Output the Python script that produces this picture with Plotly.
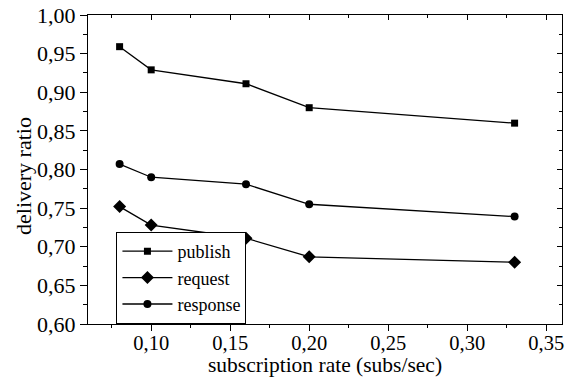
import plotly.graph_objects as go

x_vals = [0.08, 0.10, 0.16, 0.20, 0.33]
publish = [0.959, 0.929, 0.911, 0.880, 0.860]
request = [0.752, 0.728, 0.711, 0.687, 0.680]
response = [0.807, 0.790, 0.781, 0.755, 0.739]
x_ticks = [0.10, 0.15, 0.20, 0.25, 0.30, 0.35]
x_title = "subscription rate (subs/sec)"
y_title = "delivery ratio"

FONT = "Liberation Serif"
fig = go.Figure()
series = [("publish", publish, "square", 7), ("request", request, "diamond", 10), ("response", response, "circle", 8)]
for name, ys, sym, sz in series:
    fig.add_trace(go.Scatter(x=x_vals, y=ys, mode="lines+markers", name=name,
                             line=dict(color="black", width=1.3),
                             marker=dict(symbol=sym, size=sz, color="black")))
# invisible traces for the extra tick axes
for xa, ya in [("x2", "y2"), ("x3", "y")]:
    fig.add_trace(go.Scatter(x=[0.2], y=[0.8], xaxis=xa, yaxis=ya, mode="markers",
                             marker=dict(opacity=0), showlegend=False, hoverinfo="skip"))

tf = dict(family=FONT, size=20.5, color="black")
ttf = dict(family=FONT, size=21.5, color="black")
common = dict(showgrid=False, zeroline=False, showline=True, linecolor="black", linewidth=1.2,
              automargin=False)
fig.update_layout(
    width=576, height=377,
    margin=dict(l=88, r=14, t=15, b=53),
    paper_bgcolor="white", plot_bgcolor="white",
    separators=",.",
    font=dict(family=FONT, size=21, color="black"),
    xaxis=dict(range=[0.06, 0.36], tickvals=x_ticks, tickformat=".2f",
               ticks="", tickfont=tf, **common),
    xaxis3=dict(range=[0.06, 0.36], overlaying="x", side="bottom", anchor="y",
                tickvals=x_ticks, showticklabels=False,
                ticks="outside", ticklen=6, tickwidth=1, tickcolor="black",
                minor=dict(dtick=0.025, tick0=0.0, ticks="outside", ticklen=3, tickcolor="black"),
                **common),
    yaxis=dict(range=[0.60, 1.00], dtick=0.05, tickformat=".2f",
               ticks="outside", ticklen=7, tickwidth=1, tickcolor="black",
               minor=dict(dtick=0.025, ticks="outside", ticklen=4, tickcolor="black"),
               tickfont=dict(family=FONT, size=22, color="black"), **common),
    xaxis2=dict(range=[0.06, 0.36], overlaying="x", side="top", anchor="y",
                tickvals=x_ticks, showticklabels=False,
                ticks="inside", ticklen=5, tickcolor="black",
                minor=dict(dtick=0.025, tick0=0.0, ticks="inside", ticklen=3, tickcolor="black"),
                **common),
    yaxis2=dict(range=[0.60, 1.00], overlaying="y", side="right", anchor="x",
                dtick=0.05, showticklabels=False,
                ticks="inside", ticklen=5, tickcolor="black",
                minor=dict(dtick=0.025, ticks="inside", ticklen=3, tickcolor="black"),
                **common),
    legend=dict(x=0.06, y=0.0, xanchor="left", yanchor="bottom",
                bordercolor="black", borderwidth=1, bgcolor="white",
                font=dict(family=FONT, size=18, color="black"), itemwidth=50, tracegroupgap=0),
    showlegend=True,
    annotations=[
        dict(text=x_title, xref="paper", yref="paper", x=0.5, y=0, xanchor="center",
             yanchor="middle", yshift=-41, showarrow=False, font=ttf),
        dict(text=y_title, xref="paper", yref="paper", x=0, y=0.479, xanchor="center",
             yanchor="middle", xshift=-64, textangle=-90, showarrow=False,
             font=dict(family=FONT, size=22, color="black")),
    ],
)
fig.write_html("out.html")
